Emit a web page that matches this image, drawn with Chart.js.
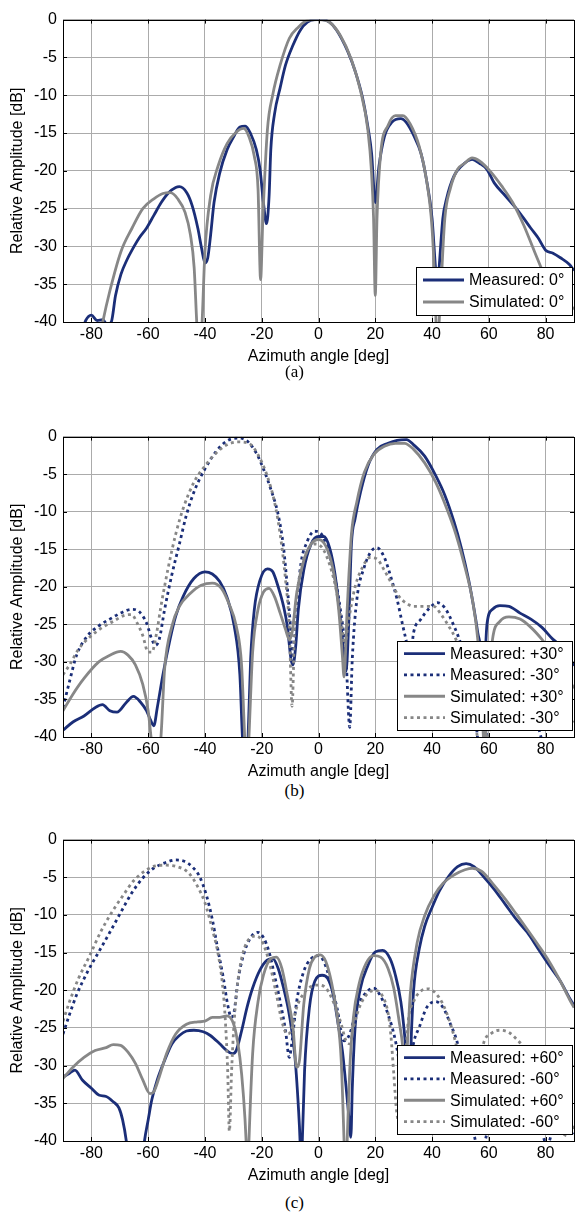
<!DOCTYPE html>
<html>
<head>
<meta charset="utf-8">
<script src="https://cdn.jsdelivr.net/npm/chart.js@4.4.0/dist/chart.umd.min.js"></script>
<style>
    body { margin: 0; background: #fff; width: 577px; height: 1219px; position: relative; overflow: hidden; }
    canvas { position: absolute; left: 0; }
    .rotulo {
        position: absolute; left: 0; width: 577px; height: 20px; line-height: 20px;
        text-align: center; font-family: "Liberation Serif", "Times New Roman", serif; font-size: 17px; color: #000;
    }
</style>
</head>
<body>
<canvas id="grafA" width="577" height="362" style="top:4px"></canvas>
<div class="rotulo" style="top:362px; padding-left:6px">(a)</div>
<canvas id="grafB" width="577" height="360" style="top:421px"></canvas>
<div class="rotulo" style="top:781px; padding-left:6px">(b)</div>
<canvas id="grafC" width="577" height="361" style="top:824px"></canvas>
<div class="rotulo" style="top:1193px; padding-left:6px">(c)</div>

<script>
const ticksX = [-80, -60, -40, -20, 0, 20, 40, 60, 80];
const ticksY = [0, -5, -10, -15, -20, -25, -30, -35, -40];

// (a) apontamento 0°
const angA_med = [-90, -84, -82, -80, -78, -76, -74.5, -73, -71.5, -69.6, -67.5, -65.7, -63, -60.6, -58, -55.4, -52.8, -50.3, -49, -46.4, -44.5, -42.5, -41.2, -40, -39, -38, -36.8, -34.8, -32.2, -29.6, -27.7, -25.8, -23.9, -21.9, -20.6, -19.4, -18.3, -17.4, -16.8, -15.5, -13.5, -11.6, -9, -6.4, -3.9, -1.3, 1.3, 3.9, 6.4, 10.3, 12.9, 15.5, 17.4, 18.7, 20, 21.3, 23.2, 25.8, 29, 30.9, 33.5, 36.1, 38, 40, 41.2, 41.9, 42.5, 43.8, 45.1, 47.7, 50.3, 54.1, 56.7, 59.3, 61.9, 65.8, 69.7, 72.3, 74.8, 77.4, 80, 82.6, 85.2, 88.4, 90];
const dbA_med = [-45, -42, -39.8, -39.1, -39.8, -39.7, -40.3, -40, -36.5, -33.7, -31.8, -30.5, -28.8, -27.6, -25.9, -24.2, -22.9, -22.2, -22.1, -22.9, -24.6, -27.6, -30.2, -32.2, -31.5, -28.5, -24.2, -20.3, -17.2, -15.3, -14.2, -14.1, -15.1, -17.2, -19.8, -24.2, -27, -23.3, -17.2, -12.5, -9, -6, -3.4, -1.4, -0.35, 0, 0, -0.35, -1.4, -4.2, -6.8, -10.3, -14.2, -17.7, -24.2, -19.4, -15.5, -13.6, -13.1, -13.6, -15.3, -17.7, -21.1, -26.3, -32.8, -35.9, -32.8, -26.3, -23.7, -20.7, -19.4, -18.5, -19, -19.8, -21.6, -23.3, -25, -26.3, -27.6, -28.9, -30.5, -30.9, -31.5, -32.4, -33.2];
const angA_sim = [-90, -77, -76, -73.5, -69.6, -65.7, -61.9, -58, -54.8, -52.2, -49.6, -47, -45.1, -43.8, -42.9, -42, -41, -40, -38, -35.4, -32.2, -29, -26.4, -24.5, -22.6, -21.3, -20.4, -19.6, -18, -16.1, -13.5, -10.3, -7.1, -3.9, 0, 3.9, 7.7, 11.6, 14.8, 17.4, 18.7, 19.4, 20, 20.6, 21.9, 24.5, 27.1, 29.7, 32.3, 35.5, 38, 40, 41.2, 41.8, 42.5, 43.2, 44.5, 46.4, 49, 51.5, 54.1, 56.7, 60.6, 64.5, 68.4, 72.3, 76.1, 80, 83.9, 87.6, 90];
const dbA_sim = [-45, -42, -40, -35.9, -30.7, -27.6, -25, -23.7, -23, -22.9, -23.7, -25.5, -28.5, -32.8, -40, -46, -40, -30.7, -23.3, -19.4, -16.4, -14.9, -14.4, -15.5, -18.1, -22.4, -34.4, -26.3, -14.6, -9.9, -6, -2.5, -1, -0.1, 0, -0.35, -2.1, -5.3, -9.4, -14.6, -20.3, -26.3, -36.5, -26.3, -17.7, -14, -12.7, -12.7, -13.8, -16.8, -21.1, -27.6, -37.2, -45, -40, -35, -26.3, -22.4, -19.8, -19, -18.3, -18.7, -20.1, -22, -24.2, -27.2, -30.7, -34.1, -36.3, -37.4, -38.3];

// (b) apontamento +30° / -30°
const angB_medP = [-90, -86.5, -82.6, -78.7, -76.1, -73.5, -71, -67.7, -65.2, -62.6, -60.6, -59.1, -58, -56.8, -54.8, -52.3, -50.3, -47.7, -43.9, -40, -37.4, -34.8, -32.3, -29.7, -27.7, -26.8, -25.8, -24.8, -23.9, -22.6, -20.6, -18, -16.1, -14.2, -12.3, -11, -9.7, -9, -8, -7.1, -5.2, -2.6, 0, 1.9, 3.9, 5.8, 7.7, 9, 9.7, 10.6, 11.6, 12.9, 14.8, 17.4, 20.6, 24.5, 27.7, 31, 33.5, 37.4, 41.3, 44.5, 47.7, 50.3, 52.9, 54.8, 56.1, 57.4, 58.2, 58.8, 59.4, 61.3, 63.9, 67.1, 71, 74.8, 78.7, 82.6, 85.2, 88.4, 90];
const dbB_medP = [-39.1, -38, -37.2, -36.1, -35.7, -36.5, -36.7, -35.4, -34.6, -35.4, -36.5, -37.8, -38.5, -36.1, -31.7, -27, -23.9, -21.3, -18.9, -18, -18.3, -19.3, -21.3, -25.2, -31.7, -40, -46, -40, -29.6, -23, -19.1, -17.6, -18, -20, -22.6, -25.2, -29.6, -30.4, -27.8, -23, -17.8, -14.3, -13.3, -13.3, -14.8, -18.3, -24.3, -29.1, -31.3, -25.2, -14.3, -10.9, -7.4, -3.9, -1.7, -0.9, -0.5, -0.4, -1.1, -2.6, -5.2, -7.8, -11.3, -14.8, -19.1, -23, -26.1, -29.6, -38, -29, -24.8, -23, -22.5, -22.6, -23.5, -24.3, -25.4, -27, -27.8, -29.6, -30.5];
const angB_medN = [-90, -87.7, -85.2, -81.3, -77.4, -73.5, -69.7, -65.8, -63.2, -60.6, -58.7, -57.4, -56.1, -54.2, -51.6, -49, -46.5, -43.9, -40, -36.1, -32.3, -28.4, -25.8, -21.9, -19.4, -16.8, -14.2, -12.3, -11, -9.9, -9, -8, -6.5, -3.9, -1.3, 0.6, 2.6, 5.2, 7.7, 9.7, 11, 11.9, 13.5, 16.1, 18.7, 20.6, 23.2, 25.8, 27.7, 29.7, 31, 32.2, 33.5, 36.1, 38.7, 41.9, 44.5, 47.7, 50.3, 53, 56, 57, 59, 62, 66, 70, 75, 80, 90];
const dbB_medN = [-36.1, -32.6, -29.1, -26.5, -25.2, -24.3, -23.5, -23, -23.3, -24.8, -27, -27.8, -27, -23, -18.3, -14.3, -10.4, -7.4, -4.3, -2, -0.6, -0.2, -0.4, -2.2, -4.3, -7, -10.4, -14.8, -20, -25.2, -30.4, -25.2, -17.8, -13.9, -12.6, -12.8, -14.3, -17.8, -23, -29.6, -38.7, -29.6, -21.7, -17.4, -15.2, -14.8, -16.1, -19.1, -21.7, -25.2, -27.4, -30, -26.1, -24.3, -23, -22.1, -22.8, -25.2, -27.8, -32, -40, -45, -40, -33, -30, -31, -35, -42, -45];
const angB_simP = [-90, -86.5, -82.6, -77.4, -73.5, -69.7, -67.1, -64.5, -61.9, -60, -59, -57.5, -55.5, -54.2, -51.6, -49, -45.2, -41.3, -37.4, -34.2, -31.6, -29, -27.1, -26, -25.2, -24.5, -23.2, -21.3, -19.4, -17.4, -15.5, -13.5, -11.6, -10.3, -9.3, -7.7, -5.2, -2.6, 0, 2.6, 5.2, 7.1, 8.4, 9, 10.1, 11.6, 13.5, 16.1, 19.4, 23.2, 27.1, 30.3, 33.5, 37.4, 41.3, 45.2, 48.4, 51.6, 54.2, 56.1, 57.5, 58.5, 59.5, 61.3, 63.9, 67.1, 71, 74.8, 78.7, 81.3, 85, 90];
const dbB_simP = [-36.5, -34.3, -32.2, -30, -29.1, -28.6, -29.1, -30.4, -33, -36.5, -40, -46, -40, -30.9, -25.2, -22.6, -20.9, -19.8, -19.5, -20.2, -22.2, -25.2, -30.4, -40, -46, -40, -28.7, -23, -20.7, -20.2, -21.3, -23.5, -25.7, -27, -26.1, -20.9, -16.5, -14.3, -13.7, -14.6, -17.8, -23, -29.1, -32, -23, -13, -8.7, -4.8, -2.4, -1.3, -0.9, -0.9, -1.7, -3.5, -6.1, -9.6, -13, -17.4, -21.7, -27, -35, -42, -35, -27, -24.6, -24, -24.3, -25.4, -27, -28.3, -30.5, -33.5];
const angB_simN = [-90, -87.7, -84.5, -80.6, -76.1, -72.3, -68.4, -65.8, -63.9, -61.9, -60, -58.7, -57, -55.5, -52.9, -50.3, -47.7, -43.9, -40, -36.1, -32.3, -28.4, -24.5, -21.3, -18.1, -15.5, -13.5, -11.6, -10.3, -9.3, -8.4, -6.5, -3.9, -1.3, 1.3, 3.9, 6.5, 8.4, 9.3, 10.3, 12.9, 15.5, 18.1, 20.6, 23.2, 25.8, 28.4, 31, 33.5, 37.4, 40.6, 43.2, 45.8, 48.4, 50.3, 53, 56, 58, 61, 66, 72, 80, 90];
const dbB_simN = [-31.7, -30.4, -28.3, -26.7, -25.4, -24.6, -23.8, -23.7, -24.8, -26.5, -28.7, -28.7, -26.1, -22.6, -17.4, -13, -9.6, -6.1, -3.9, -2.2, -1.1, -0.7, -0.9, -2.4, -5.2, -8.7, -13, -19.1, -25.2, -35.9, -25.2, -18.3, -15.2, -14.3, -14.8, -17, -20.9, -25.7, -27.8, -25.2, -20, -17.4, -16.1, -16.3, -17.8, -19.6, -21.3, -22.2, -22.6, -22.6, -22.6, -23.7, -25.2, -27, -29.1, -34, -40, -44, -37, -32, -31, -34, -38];

// (c) apontamento +60° / -60°
const angC_medP = [-90, -87.7, -85.8, -83.2, -80, -77.4, -74.8, -72.3, -70.3, -69, -67.7, -66, -63, -61.3, -60, -58.7, -56.8, -54.2, -51.6, -49, -46.5, -43.9, -40.6, -38.1, -34.8, -32.3, -30.3, -29, -27.1, -25.2, -23.2, -20.6, -18.1, -16.1, -14.2, -12.3, -10.3, -8.4, -7.1, -6.5, -6.1, -5.7, -4.9, -3.2, -1.3, 1.3, 3.2, 5.2, 7.1, 8.4, 9.5, 10.5, 11.4, 11.9, 12.9, 14.8, 17.4, 20, 22.6, 25.2, 27.1, 29, 30.3, 31.2, 32, 32.8, 33.5, 35.5, 37.4, 40, 42.6, 45.8, 49, 52, 54.8, 58.1, 61.9, 65.8, 69.7, 73.5, 77.4, 81.3, 85.2, 88.4, 90];
const dbC_medP = [-31.5, -31, -30.6, -31.9, -33, -33.9, -34.1, -34.8, -35.6, -37.2, -40, -46, -46, -40, -37.2, -34.5, -31.9, -29.3, -27.1, -26, -25.4, -25.3, -25.5, -26, -27.1, -28, -28.4, -28, -25.4, -22.3, -19.7, -17.3, -16, -15.8, -17.1, -19.7, -23.2, -28.4, -35.4, -40, -46, -40, -30.6, -22.3, -18.8, -18, -18.4, -20.6, -24.9, -28, -32, -36, -39.5, -33, -24.9, -19.7, -16.7, -14.9, -14.7, -15.8, -18, -21.5, -25.8, -30, -33, -25, -20, -14.5, -11.5, -9, -6.8, -4.9, -3.6, -3.2, -3.6, -4.9, -6.6, -8.6, -10.6, -12.3, -14.5, -16.7, -18.8, -21, -22];
const angC_medN = [-90, -87.7, -85.2, -81.3, -77.4, -73.5, -69.7, -65.8, -61.9, -58.1, -54.2, -50.3, -47.1, -44.5, -41.9, -39.4, -37.4, -35.5, -33.5, -32, -30.7, -29.7, -28.4, -26.5, -23.9, -21.3, -19.4, -17.4, -15.5, -13.5, -11.6, -10.3, -9.3, -7.7, -5.2, -2.6, 0, 1.9, 3.9, 6.5, 9, 11, 13.5, 16.1, 19.4, 21.9, 24.5, 27.1, 29, 30.5, 32, 33.5, 35.5, 38.1, 41.3, 43.9, 46.5, 49, 52, 55, 57, 59, 62, 67, 72, 77, 80.5, 84, 90];
const dbC_medN = [-25.8, -23.2, -20.6, -17.5, -14.9, -12.3, -9.7, -7.1, -5.1, -3.8, -3.1, -2.7, -2.9, -3.6, -4.9, -7.5, -10.6, -14.5, -18.4, -21.9, -23.6, -22.8, -18.8, -15.4, -13, -12.3, -13, -14.9, -18, -21.5, -25.4, -28.9, -26.7, -21.5, -17.5, -15.8, -15.4, -16.2, -18.4, -22.3, -26.7, -25.8, -22.3, -20.6, -19.7, -20.8, -23.2, -26.7, -31, -36, -31, -27, -24.9, -22.3, -21.5, -22.3, -24.5, -27.1, -33, -39.5, -42, -39.5, -34, -31, -32, -36, -40.5, -37, -39];
const angC_simP = [-90, -86.5, -82.6, -78.7, -74.8, -72.3, -69.7, -67.1, -64.5, -61.9, -59.4, -58.1, -56.1, -53.5, -50.3, -46.5, -42.6, -40, -37.4, -34.8, -32.3, -30.3, -29, -27.7, -26.5, -25.5, -25, -24.5, -23.2, -21.3, -19.4, -16.8, -14.8, -12.9, -11, -9, -7.7, -6.7, -5.2, -3.2, -1.3, 0.6, 2.6, 4.5, 6.5, 8, 9, 9.5, 10.1, 11, 12.3, 14.2, 16.8, 19.4, 21.9, 24.5, 26.5, 28.4, 29.7, 30.5, 31.5, 32.3, 34.8, 37.4, 40.6, 43.9, 47.7, 51.6, 54.2, 57.4, 61.3, 65.8, 69.7, 73.5, 77.4, 81.3, 85.2, 88.4, 90];
const dbC_simP = [-31.7, -30.2, -28.9, -28, -27.6, -27.2, -27.3, -28.2, -29.7, -31.9, -33.7, -33.5, -31.5, -28.4, -25.8, -24.5, -24.2, -24.1, -23.6, -23.6, -23.4, -24.1, -25.8, -28.9, -33.7, -40, -46, -40, -28.4, -21.5, -18, -15.8, -15.6, -17.1, -20.6, -24.9, -30.2, -29.3, -21.9, -17.1, -15.6, -15.3, -16.2, -18.8, -23.2, -29.3, -40, -46, -40, -30.6, -23.6, -19.3, -16.4, -15.4, -15.6, -17.1, -19.7, -24.1, -27.6, -32, -26, -20.6, -13.6, -10.1, -7.5, -5.8, -4.7, -4, -3.8, -4.2, -5.8, -7.9, -9.9, -11.9, -14, -16.2, -18.8, -21.2, -22.3];
const angC_simN = [-90, -87.7, -84.5, -80.6, -76.8, -72.9, -69, -65.2, -61.3, -57.4, -53.5, -49.7, -45.8, -42.6, -40, -37.4, -35.5, -33.8, -32.8, -32, -31.4, -30.6, -29.7, -28.4, -26.5, -23.9, -21.9, -20, -17.4, -14.8, -12.9, -11, -9.7, -7.7, -5.2, -2.6, 0, 2.6, 5.2, 7.7, 9.7, 11, 12.3, 14.8, 17.4, 20, 22.6, 24.5, 25.5, 26.5, 27.5, 29, 30.5, 31.6, 33.5, 36.1, 38.7, 41.3, 43.9, 46.5, 48.4, 51, 54, 56.5, 58.1, 60.6, 63.9, 67.1, 70.3, 72.3, 76, 80, 84, 87.7, 90];
const dbC_simN = [-24.1, -21.5, -18.4, -15.4, -12.3, -9.7, -7.5, -5.5, -4.2, -3.5, -3.4, -3.6, -4.4, -6.2, -8.4, -11.9, -14.9, -19.3, -24.1, -30.6, -38.7, -30.6, -24.1, -18.8, -14.9, -13, -12.8, -13.4, -16.2, -20.6, -24.1, -25.8, -25.4, -22.3, -20.4, -19.5, -19.3, -19.7, -21.5, -24.1, -26.7, -27.1, -24.9, -21.9, -20.4, -20, -20.8, -23, -26, -31, -36, -38, -30, -24.1, -21.5, -20.1, -19.8, -20.4, -21.9, -24.5, -27.1, -32, -35, -31, -27.1, -25.8, -25.3, -25.6, -26.7, -27.6, -31, -35, -38, -39.3, -38];

const AZUL = "#1b2e78";
const CINZA = "#878787";
const FONTE = "'Liberation Sans', Arial, Helvetica, sans-serif";

function serie(rotulo, angulos, valores, cor, pontilhado) {
    if (angulos.length !== valores.length) console.warn("tamanhos diferentes:", rotulo);
    return {
        label: rotulo,
        data: angulos.map((a, i) => ({ x: a, y: valores[i] })),
        borderColor: cor,
        borderWidth: 2.8,
        borderDash: pontilhado ? [3, 3.5] : [],
        borderCapStyle: "butt",
        pointRadius: 0,
        cubicInterpolationMode: "monotone",
        fill: false,
        clip: 0
    };
}

// moldura, marcas internas e legenda no canto inferior direito (estilo MATLAB)
const molduraPlugin = {
    id: "moldura",
    afterDatasetsDraw(chart) {
        const { ctx, chartArea: a, scales } = chart;
        ctx.save();
        ctx.strokeStyle = "#000";
        ctx.lineWidth = 1;
        ctx.beginPath();
        ticksX.forEach(v => {
            const x = Math.round(scales.x.getPixelForValue(v)) + 0.5;
            ctx.moveTo(x, a.top); ctx.lineTo(x, a.top + 4);
            ctx.moveTo(x, a.bottom); ctx.lineTo(x, a.bottom - 4);
        });
        ticksY.forEach(v => {
            const y = Math.round(scales.y.getPixelForValue(v)) + 0.5;
            ctx.moveTo(a.left, y); ctx.lineTo(a.left + 4, y);
            ctx.moveTo(a.right, y); ctx.lineTo(a.right - 4, y);
        });
        ctx.stroke();
        ctx.strokeRect(Math.round(a.left) + 0.5, Math.round(a.top) + 0.5,
            Math.round(a.right - a.left), Math.round(a.bottom - a.top));

        // legenda
        const ds = chart.data.datasets;
        ctx.font = "16px " + FONTE;
        const larguraTexto = Math.max(...ds.map(d => ctx.measureText(d.label).width));
        const passo = ds.length > 2 ? 21.3 : 22;
        const largura = 7 + 41 + 5 + larguraTexto + 8;
        const altura = ds.length * passo + 4;
        const dir = Math.round(a.right - 2);
        const baixo = Math.round(a.bottom - 7);
        const esq = Math.round(dir - largura);
        const topo = Math.round(baixo - altura);
        ctx.fillStyle = "#fff";
        ctx.fillRect(esq, topo, dir - esq, baixo - topo);
        ctx.strokeStyle = "#000";
        ctx.strokeRect(esq + 0.5, topo + 0.5, dir - esq, baixo - topo);
        ds.forEach((d, i) => {
            const y = topo + 2 + passo / 2 + i * passo;
            ctx.save();
            ctx.strokeStyle = d.borderColor;
            ctx.lineWidth = d.borderWidth;
            ctx.setLineDash(d.borderDash);
            ctx.beginPath();
            ctx.moveTo(esq + 7, y);
            ctx.lineTo(esq + 48, y);
            ctx.stroke();
            ctx.restore();
            ctx.fillStyle = "#000";
            ctx.textBaseline = "middle";
            ctx.textAlign = "left";
            ctx.fillText(d.label, esq + 53, y + 1);
        });
        ctx.restore();
    }
};

function criarGrafico(id, series) {
    const n = series.length;
    series.forEach((s, i) => { s.order = n - i; }); // a última série fica por cima
    return new Chart(document.getElementById(id), {
        type: "line",
        data: { datasets: series },
        options: {
            responsive: false,
            animation: false,
            layout: { padding: { top: 10, right: 3, left: 0, bottom: 0 } },
            plugins: { legend: { display: false }, tooltip: { enabled: false } },
            scales: {
                x: {
                    type: "linear", min: -90, max: 90,
                    afterBuildTicks: s => { s.ticks = ticksX.map(v => ({ value: v })); },
                    afterFit: s => { s.height = 44; },
                    grid: { color: "#ababab", drawTicks: false },
                    border: { display: false },
                    ticks: { padding: 3, color: "#000", font: { size: 16, family: FONTE } },
                    title: { display: true, text: "Azimuth angle [deg]", color: "#000", font: { size: 16, family: FONTE }, padding: 0 }
                },
                y: {
                    min: -40, max: 0,
                    afterBuildTicks: s => { s.ticks = ticksY.map(v => ({ value: v })); },
                    afterFit: s => { s.width = 63; },
                    grid: { color: "#ababab", drawTicks: false },
                    border: { display: false },
                    ticks: { padding: 6, color: "#000", font: { size: 16, family: FONTE } },
                    title: { display: true, text: "Relative Amplitude [dB]", color: "#000", font: { size: 16, family: FONTE }, padding: { top: 8, bottom: 0 } }
                }
            }
        },
        plugins: [molduraPlugin]
    });
}

criarGrafico("grafA", [
    serie("Measured: 0°", angA_med, dbA_med, AZUL, false),
    serie("Simulated: 0°", angA_sim, dbA_sim, CINZA, false)
]);

criarGrafico("grafB", [
    serie("Measured: +30°", angB_medP, dbB_medP, AZUL, false),
    serie("Measured: -30°", angB_medN, dbB_medN, AZUL, true),
    serie("Simulated: +30°", angB_simP, dbB_simP, CINZA, false),
    serie("Simulated: -30°", angB_simN, dbB_simN, CINZA, true)
]);

criarGrafico("grafC", [
    serie("Measured: +60°", angC_medP, dbC_medP, AZUL, false),
    serie("Measured: -60°", angC_medN, dbC_medN, AZUL, true),
    serie("Simulated: +60°", angC_simP, dbC_simP, CINZA, false),
    serie("Simulated: -60°", angC_simN, dbC_simN, CINZA, true)
]);
</script>
</body>
</html>
